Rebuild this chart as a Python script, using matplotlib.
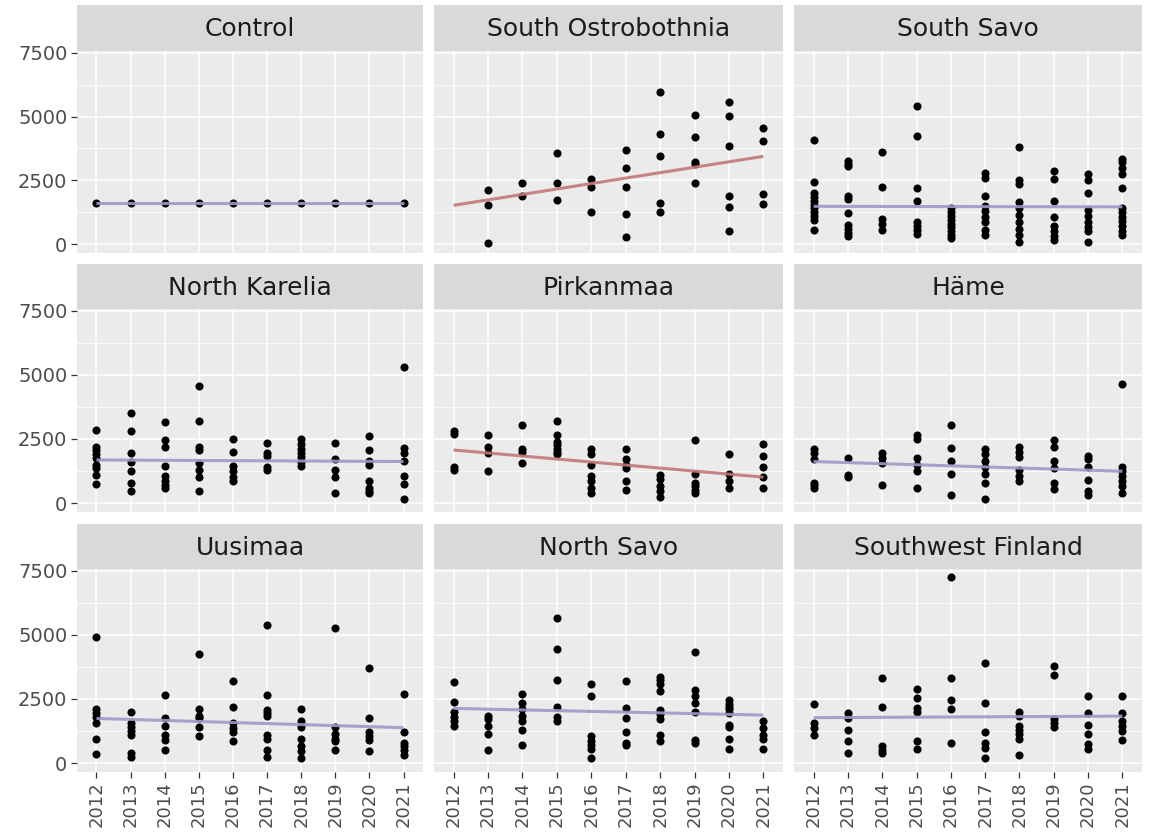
import matplotlib.pyplot as plt

plt.rcParams['font.family'] = ['DejaVu Sans']

years = list(range(2012, 2022))

regions = ["Control", "South Ostrobothnia", "South Savo",
           "North Karelia", "Pirkanmaa", "Häme",
           "Uusimaa", "North Savo", "Southwest Finland"]

# observations per year for each region
control = {y: [1620] for y in years}

south_ostrobothnia = {
    2013: [2120, 1530, 30],
    2014: [2380, 1880],
    2015: [3580, 2380, 1720],
    2016: [2550, 2220, 1240],
    2017: [3690, 2970, 2250, 1180, 260],
    2018: [5970, 4300, 3450, 1600, 1240],
    2019: [5070, 4180, 3230, 3140, 2380],
    2020: [5560, 5020, 3860, 1900, 1460, 520],
    2021: [4540, 4050, 1950, 1560],
}

south_savo = {
    2012: [4100, 2450, 2000, 1850, 1700, 1550, 1400, 1250, 1100, 950, 550],
    2013: [3250, 3150, 3050, 1900, 1750, 1200, 750, 600, 450, 330],
    2014: [3600, 2250, 1000, 800, 550],
    2015: [5400, 4250, 2200, 1700, 850, 700, 550, 400],
    2016: [1400, 1250, 1100, 950, 800, 650, 500, 350, 250],
    2017: [2800, 2600, 1900, 1500, 1300, 1050, 850, 550, 350],
    2018: [3800, 2500, 2350, 1650, 1400, 1150, 850, 600, 350, 100],
    2019: [2850, 2550, 1700, 1050, 700, 500, 300, 150],
    2020: [2750, 2500, 2000, 1350, 1100, 850, 650, 500, 100],
    2021: [3350, 3200, 3000, 2750, 2200, 1400, 1250, 1050, 900, 700, 500, 350],
}

north_karelia = {
    2012: [2850, 2200, 2050, 1900, 1750, 1500, 1350, 1100, 750],
    2013: [3500, 2800, 1950, 1600, 1250, 800, 450],
    2014: [3150, 2450, 2200, 1450, 1050, 850, 700, 600],
    2015: [4550, 3200, 2200, 2050, 1550, 1300, 1000, 450],
    2016: [2500, 2000, 1450, 1250, 1000, 850],
    2017: [2350, 1950, 1850, 1400, 1300],
    2018: [2500, 2300, 2100, 1950, 1800, 1600, 1450],
    2019: [2350, 1700, 1300, 1000, 400],
    2020: [2600, 2050, 1650, 1500, 850, 600, 450, 400],
    2021: [5300, 2150, 1950, 1650, 1050, 750, 150],
}

pirkanmaa = {
    2012: [2800, 2700, 1400, 1300],
    2013: [2650, 2200, 1950, 1250],
    2014: [3050, 2100, 2000, 1550],
    2015: [3200, 2650, 2400, 2250, 2100, 2000, 1900],
    2016: [2100, 1900, 1500, 1050, 850, 600, 400],
    2017: [2100, 1700, 1500, 1350, 850, 500],
    2018: [1100, 950, 650, 450, 250],
    2019: [2450, 1150, 800, 650, 500, 400],
    2020: [1900, 1150, 850, 600],
    2021: [2300, 1850, 1400, 1000, 600],
}

hame = {
    2012: [2100, 1950, 1700, 800, 700, 600],
    2013: [1750, 1100, 1000],
    2014: [1950, 1750, 1550, 700],
    2015: [2650, 2500, 1750, 1500, 1250, 600],
    2016: [3050, 2150, 1650, 1150, 300],
    2017: [2100, 1900, 1650, 1400, 1150, 800, 150],
    2018: [2200, 2000, 1800, 1300, 1050, 850],
    2019: [2450, 2200, 1650, 1350, 800, 550],
    2020: [1850, 1700, 1400, 900, 450, 300],
    2021: [4650, 1400, 1250, 1050, 850, 650, 400],
}

uusimaa = {
    2012: [4900, 2100, 1950, 1800, 1550, 950, 350],
    2013: [2000, 1550, 1400, 1250, 1100, 400, 250],
    2014: [2650, 1750, 1450, 1100, 900, 500],
    2015: [4250, 2100, 1850, 1750, 1400, 1050],
    2016: [3200, 2200, 1550, 1350, 1200, 850],
    2017: [5400, 2650, 2050, 1950, 1850, 1100, 950, 500, 250],
    2018: [2100, 1650, 1400, 950, 650, 450, 200],
    2019: [5250, 1400, 1150, 950, 850, 500],
    2020: [3700, 1750, 1200, 1050, 900, 450],
    2021: [2700, 1200, 800, 650, 500, 300],
}

north_savo = {
    2012: [3150, 2400, 2000, 1800, 1650, 1450],
    2013: [1850, 1700, 1450, 1150, 500],
    2014: [2700, 2350, 2100, 1850, 1650, 1300, 700],
    2015: [5650, 4450, 3250, 2200, 1800, 1650],
    2016: [3100, 2600, 1050, 850, 700, 550, 200],
    2017: [3200, 2150, 1750, 1200, 800, 700],
    2018: [3350, 3250, 3100, 2800, 2050, 1900, 1700, 1100, 850],
    2019: [4350, 2850, 2600, 2350, 2000, 900, 800],
    2020: [2450, 2300, 2200, 2100, 1950, 1500, 1400, 950, 550],
    2021: [1650, 1350, 1100, 950, 550],
}

southwest_finland = {
    2012: [2300, 1550, 1350, 1100],
    2013: [1950, 1750, 1300, 850, 400],
    2014: [3300, 2200, 650, 500, 400],
    2015: [2900, 2550, 2150, 2000, 850, 550],
    2016: [7250, 3300, 2450, 2100, 800],
    2017: [3900, 2350, 1200, 800, 600, 200],
    2018: [2000, 1850, 1450, 1300, 1150, 950, 300],
    2019: [3800, 3450, 1700, 1550, 1400],
    2020: [2600, 1950, 1500, 1150, 750, 550],
    2021: [2600, 1950, 1650, 1450, 1250, 900],
}

panel_data = [control, south_ostrobothnia, south_savo,
              north_karelia, pirkanmaa, hame,
              uusimaa, north_savo, southwest_finland]

# fitted trend at 2012 and 2021, and whether the slope is significant
trend_start = [1620, 1520, 1480, 1680, 2070, 1620, 1740, 2130, 1770]
trend_end = [1620, 3440, 1460, 1620, 1010, 1240, 1380, 1870, 1830]
significant = [False, True, False, False, True, False, False, False, False]

W, H = 1149, 834
fig = plt.figure(figsize=(W / 100, H / 100), dpi=100)

col_edges = [(77, 423), (434, 783), (794, 1142)]
row_edges = [(5, 51, 253), (264, 309, 512), (524, 569, 772)]


def rect(left, top, right, bottom):
    return [left / W, 1 - bottom / H, (right - left) / W, (bottom - top) / H]


for i, name in enumerate(regions):
    r, c = divmod(i, 3)
    left, right = col_edges[c]
    s_top, p_top, p_bot = row_edges[r]

    # strip with the facet title
    sax = fig.add_axes(rect(left, s_top, right, p_top))
    sax.set_facecolor('#D9D9D9')
    sax.set_xticks([])
    sax.set_yticks([])
    for sp in sax.spines.values():
        sp.set_visible(False)
    sax.text(0.5, 0.47, name, ha='center', va='center', fontsize=18,
             color='#1A1A1A', transform=sax.transAxes)

    ax = fig.add_axes(rect(left, p_top, right, p_bot))
    ax.set_facecolor('#EBEBEB')
    for sp in ax.spines.values():
        sp.set_visible(False)

    ax.set_xlim(2012 - 0.57, 2021 + 0.57)
    ax.set_ylim(-350, 7570)
    ax.set_xticks(years)
    ax.set_yticks([0, 2500, 5000, 7500])
    ax.set_yticks([1250, 3750, 6250], minor=True)
    ax.grid(which='major', color='white', linewidth=1.1)
    ax.grid(which='minor', axis='y', color='white', linewidth=0.55)
    ax.set_axisbelow(True)
    ax.tick_params(which='minor', length=0)
    ax.tick_params(which='major', color='#333333', length=4, width=0.9,
                   labelcolor='#4D4D4D', pad=3)
    ax.tick_params(axis='y', labelsize=14)
    ax.tick_params(axis='x', labelsize=13)

    if c == 0:
        ax.set_yticklabels(['0', '2500', '5000', '7500'])
    else:
        ax.tick_params(axis='y', length=0, labelleft=False)
    if r == 2:
        ax.set_xticklabels([str(y) for y in years], rotation=90)
    else:
        ax.tick_params(axis='x', length=0, labelbottom=False)

    data = panel_data[i]
    xs = [y for y in data for _ in data[y]]
    ys = [v for y in data for v in data[y]]
    ax.scatter(xs, ys, s=34, color='black', linewidths=0, zorder=3)

    line_color = '#C27878' if significant[i] else '#9D99C7'
    ax.plot([2012, 2021], [trend_start[i], trend_end[i]], color=line_color,
            linewidth=2.2, alpha=0.9, zorder=4, solid_capstyle='butt')

fig.savefig('out.png', dpi=100, facecolor='white')
